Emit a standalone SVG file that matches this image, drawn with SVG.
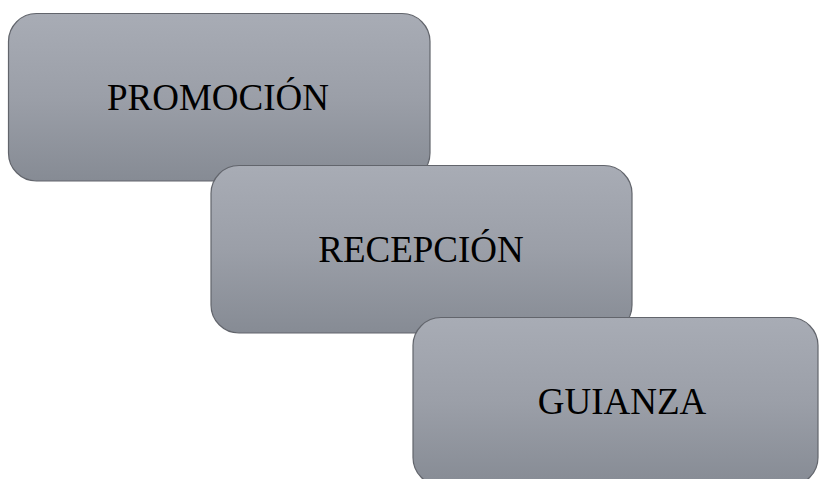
<svg xmlns="http://www.w3.org/2000/svg" width="820" height="479" viewBox="0 0 820 479">
<style>
.box{fill:url(#g);stroke:#62656c;stroke-width:1.2}
.lbl{font-family:"Liberation Serif","Times New Roman",serif;font-size:37px;fill:#000;text-anchor:middle}
</style>
<defs>
<linearGradient id="g" x1="0" y1="0" x2="0" y2="1">
<stop offset="0" stop-color="#a8acb5"/>
<stop offset="0.5" stop-color="#9b9fa8"/>
<stop offset="1" stop-color="#868b94"/>
</linearGradient>
</defs>
<rect width="820" height="479" fill="#fff"/>
<g id="promocion">
<rect class="box" x="8.5" y="13.5" width="421.5" height="167.5" rx="28"/>
<text class="lbl" x="218" y="110">PROMOCIÓN</text>
</g>
<g id="recepcion">
<rect class="box" x="211" y="165.5" width="421" height="167.5" rx="28"/>
<text class="lbl" x="421" y="262">RECEPCIÓN</text>
</g>
<g id="guianza">
<rect class="box" x="413" y="317.5" width="405" height="168" rx="28"/>
<text class="lbl" x="622" y="414">GUIANZA</text>
</g>
<g id="connectors"/>
</svg>
